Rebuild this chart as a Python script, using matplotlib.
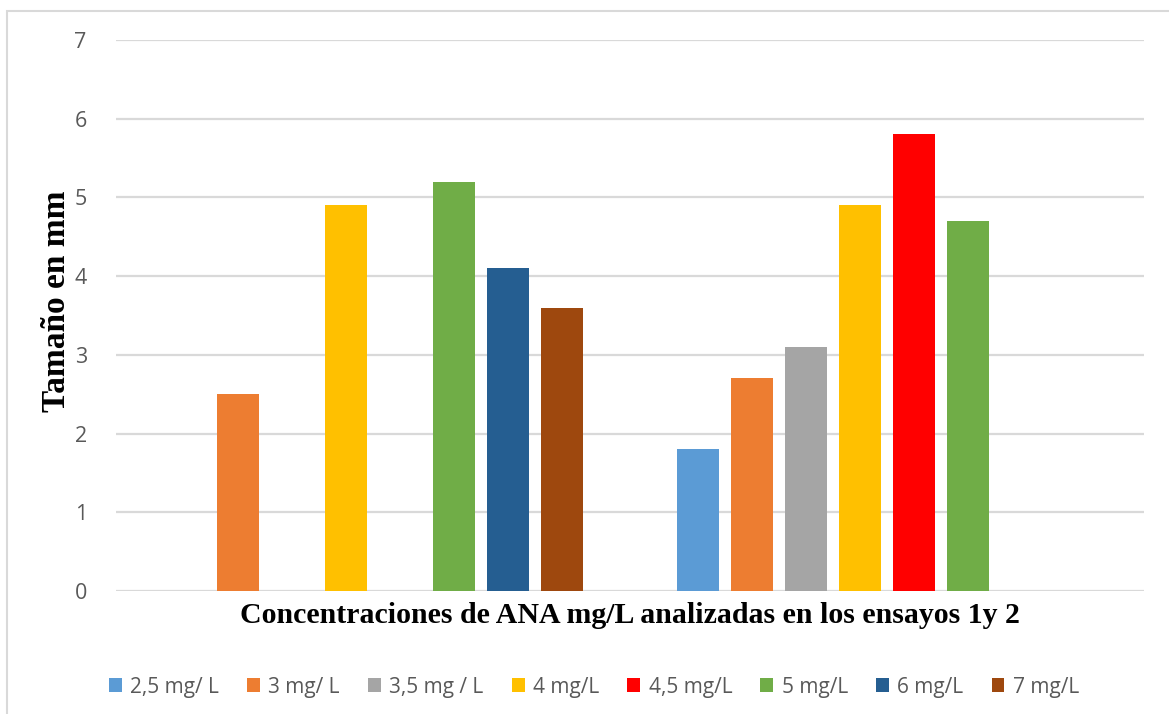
import numpy as np
import matplotlib
matplotlib.use("Agg")
import matplotlib.pyplot as plt
from matplotlib.patches import Rectangle

# data (nan = no bar)
grupos = ["Ensayo 1", "Ensayo 2"]
series = ["2,5 mg/ L", "3 mg/ L", "3,5 mg / L", "4 mg/L", "4,5 mg/L", "5 mg/L", "6 mg/L", "7 mg/L"]
ensayo_1 = [np.nan, 2.5, np.nan, 4.9, np.nan, 5.2, 4.1, 3.6]
ensayo_2 = [1.8, 2.7, 3.1, 4.9, 5.8, 4.7, np.nan, np.nan]
colores = ["#5B9BD5", "#ED7D31", "#A5A5A5", "#FFC000", "#FF0000", "#70AD47", "#255E91", "#9E480E"]

valores = np.array([ensayo_1, ensayo_2])

fig = plt.figure(figsize=(11.69, 7.14), dpi=100)
ax = fig.add_axes([116/1169, 1-591/714, (1144-116)/1169, (591-40)/714])

x = np.arange(len(grupos))
slot = 54/514
ancho = 42/514
for i, nombre in enumerate(series):
    ax.bar(x + (i - 3.5)*slot, valores[:, i], width=ancho, color=colores[i], label=nombre, zorder=3)

ax.set_xlim(-0.5, 1.5)
ax.set_ylim(0, 7)
ax.set_yticks(range(0, 8))
ax.set_xticks([])
ax.grid(axis="y", color="#d9d9d9", linewidth=1.6, zorder=0)
for s in ax.spines.values():
    s.set_visible(False)
ax.tick_params(axis="y", length=0, pad=21, labelsize=15.5, labelcolor="#595959")
for lab in ax.get_yticklabels():
    lab.set_family("Open Sans")

ax.set_xlabel("Concentraciones de ANA mg/L analizadas en los ensayos 1y 2",
              fontsize=21.5, fontweight="bold", family="Liberation Serif", labelpad=8)
ax.set_ylabel("Tamaño en mm", fontsize=24, fontweight="bold", family="Liberation Serif")
ax.yaxis.set_label_coords(-0.043, 0.525)

leg = fig.legend(loc="center", bbox_to_anchor=(594/1169, 1-687/714), ncol=8, frameon=False,
                 handlelength=0.62, handleheight=0.62, handletextpad=0.4, columnspacing=1.35,
                 prop={"family": "Open Sans", "size": 15})
for t in leg.get_texts():
    t.set_color("#595959")

# thin frame of the chart area (cut off on the right and bottom)
fig.patches.append(Rectangle((7/1169, -0.1), 2, 1 - 11/714 + 0.1, transform=fig.transFigure,
                             fill=False, edgecolor="#d9d9d9", linewidth=1.5))

fig.savefig("out.png", dpi=100)
